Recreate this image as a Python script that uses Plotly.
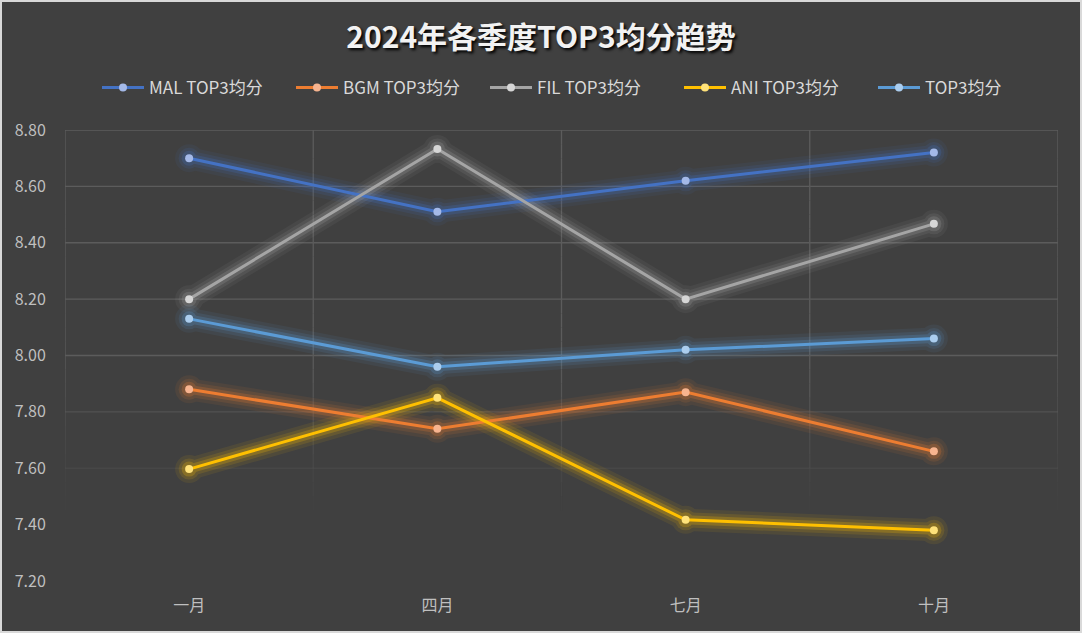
import plotly.graph_objects as go

# 季度（类别）与各平台 TOP3 均分
quarters = ['一月', '四月', '七月', '十月']
mal_top3 = [8.70, 8.51, 8.62, 8.72]
bgm_top3 = [7.88, 7.74, 7.87, 7.66]
fil_top3 = [8.20, 8.733, 8.20, 8.467]
ani_top3 = [7.597, 7.85, 7.417, 7.38]
avg_top3 = [8.13, 7.96, 8.02, 8.06]

y_ticks = [7.20, 7.40, 7.60, 7.80, 8.00, 8.20, 8.40, 8.60, 8.80]

series = [
    ('MAL TOP3均分', mal_top3, '#4472C4', '#A4B9E8'),
    ('BGM TOP3均分', bgm_top3, '#ED7D31', '#F7B48F'),
    ('FIL TOP3均分', fil_top3, '#A5A5A5', '#D6D6D6'),
    ('ANI TOP3均分', ani_top3, '#FFC000', '#FFE27A'),
    ('TOP3均分', avg_top3, '#5B9BD5', '#ABCDEE'),
]

fig = go.Figure()

# 发光效果：先画宽而半透明的线
for name, vals, col, mcol in series:
    for w, op in [(22, 0.08), (15, 0.12), (9, 0.22)]:
        fig.add_trace(go.Scatter(
            x=quarters, y=vals, mode='lines+markers',
            line=dict(color=col, width=w),
            marker=dict(size=w + 6, color=col),
            opacity=op, showlegend=False, hoverinfo='skip'))

for name, vals, col, mcol in series:
    fig.add_trace(go.Scatter(
        x=quarters, y=vals, name=name, mode='lines+markers',
        line=dict(color=col, width=3),
        marker=dict(size=8, color=mcol, line=dict(width=0))))

W, H = 1082, 633
L, R, T, B = 65, 24, 130, 52
pw, ph = W - L - R, H - T - B


def grid_alpha(v):
    # 网格线向下逐渐变淡
    return max(0.0, min(1.0, (v - 7.45) / 0.55))


shapes = []
# 横向网格线
for v in y_ticks[1:]:
    a = grid_alpha(v)
    if a > 0:
        shapes.append(dict(type='line', xref='paper', yref='y', x0=0, x1=1, y0=v, y1=v,
                           line=dict(color=f'rgba(92,92,92,{a:.2f})', width=1.3), layer='below'))
# 纵向网格线与左右边框（分段渐隐）
steps = [7.2 + 0.05 * i for i in range(33)]
for xb in [-0.5, 0.5, 1.5, 2.5, 3.5]:
    for y0, y1 in zip(steps[:-1], steps[1:]):
        a = grid_alpha((y0 + y1) / 2)
        if a > 0:
            shapes.append(dict(type='line', xref='x', yref='y', x0=xb, x1=xb, y0=y0, y1=y1,
                               line=dict(color=f'rgba(92,92,92,{a:.2f})', width=1.3), layer='below'))
# 外框
shapes.append(dict(type='rect', xref='paper', yref='paper',
                   x0=(1 - L) / pw, x1=(W - 1 - L) / pw,
                   y0=-(B - 1) / ph, y1=1 + (T - 1) / ph,
                   line=dict(color='#D9D9D9', width=2)))

fig.update_layout(
    width=W, height=H,
    margin=dict(l=L, r=R, t=T, b=B, autoexpand=False),
    paper_bgcolor='#404040', plot_bgcolor='#404040',
    font=dict(family='Noto Sans CJK SC, Noto Sans, sans-serif', color='#BFBFBF'),
    title=dict(text='<b>2024年各季度TOP3均分趋势</b>', x=0.5, xanchor='center',
               y=1 - 37 / H, yanchor='middle',
               font=dict(size=30, color='#F2F2F2', shadow='2px 2px 3px #000000')),
    legend=dict(orientation='h', x=(97 - L) / pw, xanchor='left', y=1 + (130 - 88) / ph,
                yanchor='middle', font=dict(size=17, color='#D9D9D9'),
                itemwidth=42, entrywidth=137, entrywidthmode='pixels',
                bgcolor='rgba(0,0,0,0)'),
    xaxis=dict(type='category', range=[-0.5, 3.5], automargin=False,
               showgrid=False, showline=False, zeroline=False,
               ticks='outside', ticklen=10, tickcolor='rgba(0,0,0,0)',
               tickfont=dict(size=16, color='#BFBFBF')),
    yaxis=dict(range=[7.2, 8.8], tickvals=y_ticks, tickformat='.2f', automargin=False,
               showgrid=False, showline=False, zeroline=False,
               ticks='outside', ticklen=15, tickcolor='rgba(0,0,0,0)',
               tickfont=dict(size=16, color='#BFBFBF')),
    shapes=shapes,
    hovermode=False,
)

# 去掉页面默认边距，使图表与窗口对齐
fig.write_html('out.html', config={'displayModeBar': False},
               post_script="document.body.style.margin='0';")
